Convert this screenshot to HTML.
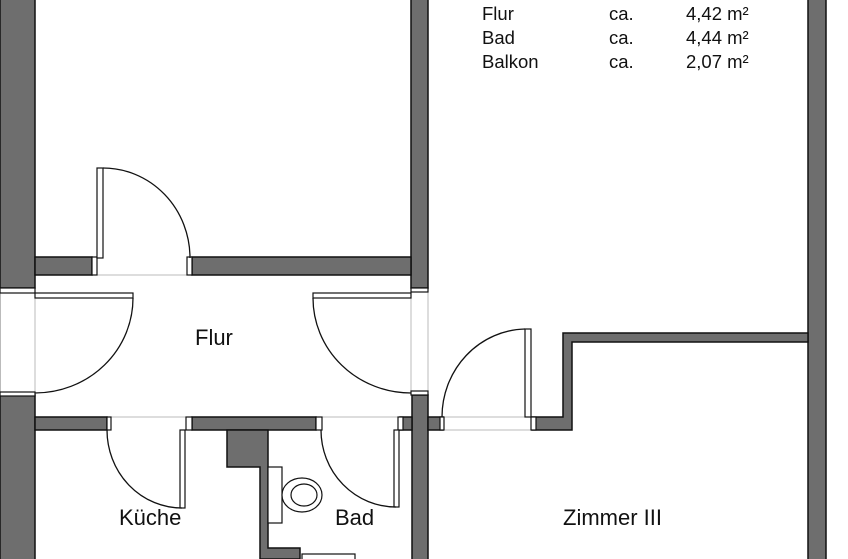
<!DOCTYPE html>
<html><head><meta charset="utf-8"><style>
html,body{margin:0;padding:0;background:#fff;width:848px;height:559px;overflow:hidden}
svg{display:block}
text{font-family:"Liberation Sans",sans-serif;fill:#111}
</style></head><body>
<svg width="848" height="559" viewBox="0 0 848 559" xmlns="http://www.w3.org/2000/svg">
<g fill="#6e6e6e" stroke="#111" stroke-width="1.5">
<rect x="0" y="-2" width="35" height="290"/>
<rect x="0" y="395" width="35" height="170"/>
<rect x="411" y="-2" width="17" height="290"/>
<rect x="412" y="395" width="16" height="170"/>
<rect x="808" y="-2" width="18" height="565"/>
<rect x="35" y="257" width="57" height="18"/>
<rect x="192" y="257" width="219" height="18"/>
<rect x="35" y="417" width="72" height="13"/>
<rect x="192" y="417" width="124" height="13"/>
<rect x="400" y="417" width="12" height="13"/>
<path d="M227 430 L268 430 L268 548 L300 548 L300 559 L260 559 L260 467 L227 467 Z"/>
<path d="M563 333 L808 333 L808 342 L572 342 L572 430 L532 430 L532 417 L563 417 Z"/>
<rect x="428" y="417" width="15" height="13"/>
</g>
<g fill="none" stroke="#bbb" stroke-width="1">
<line x1="0.5" y1="288" x2="0.5" y2="395"/>
<line x1="35" y1="288" x2="35" y2="395"/>
<line x1="411" y1="288" x2="411" y2="395"/>
<line x1="428" y1="288" x2="428" y2="395"/>
<line x1="97" y1="275" x2="187" y2="275"/>
<line x1="110" y1="417" x2="186" y2="417"/>
<line x1="322" y1="417" x2="400" y2="417"/>
<line x1="443" y1="417" x2="531" y2="417"/>
<line x1="443" y1="430" x2="531" y2="430"/>
</g>
<g fill="#fff" stroke="#111" stroke-width="1.2">
<rect x="0" y="288" width="35" height="5"/>
<rect x="0" y="392" width="35" height="4"/>
<rect x="411" y="288" width="17" height="4"/>
<rect x="411" y="391" width="17" height="4"/>
<rect x="92" y="257" width="5" height="18"/>
<rect x="187" y="257" width="5" height="18"/>
<rect x="107" y="417" width="4" height="13"/>
<rect x="186" y="417" width="6" height="13"/>
<rect x="316" y="417" width="6" height="13"/>
<rect x="398" y="417" width="5" height="13"/>
<rect x="440" y="417" width="4" height="13"/>
<rect x="531" y="417" width="5" height="13"/>
<rect x="97" y="168" width="6" height="90"/>
<rect x="35" y="293" width="98" height="5"/>
<rect x="313" y="293" width="98" height="5"/>
<rect x="180" y="430" width="5" height="78"/>
<rect x="394" y="430" width="5" height="77"/>
<rect x="525" y="329" width="6" height="88"/>
<rect x="268" y="467" width="14" height="56"/>
<ellipse cx="302" cy="495" rx="20" ry="17"/>
<ellipse cx="304" cy="495" rx="13" ry="11"/>
<rect x="302" y="554" width="53" height="8"/>
</g>
<g fill="none" stroke="#111" stroke-width="1.3">
<path d="M103 168 A87 90 0 0 1 190 258"/>
<path d="M133 298 A98 95 0 0 1 35 393"/>
<path d="M313 298 A98 95 0 0 0 411 393"/>
<path d="M107 430 A75 78 0 0 0 182 508"/>
<path d="M321 430 A75 77 0 0 0 396 507"/>
<path d="M525 329 A85 88 0 0 0 442 417"/>
</g>
<g font-size="22">
<text x="195" y="345">Flur</text>
<text x="119" y="525">Küche</text>
<text x="335" y="525">Bad</text>
<text x="563" y="525">Zimmer III</text>
</g>
<g font-size="18.5">
<text x="482" y="20">Flur</text><text x="609" y="20">ca.</text><text x="686" y="20">4,42 m²</text>
<text x="482" y="44">Bad</text><text x="609" y="44">ca.</text><text x="686" y="44">4,44 m²</text>
<text x="482" y="68">Balkon</text><text x="609" y="68">ca.</text><text x="686" y="68">2,07 m²</text>
</g>
</svg>
</body></html>
